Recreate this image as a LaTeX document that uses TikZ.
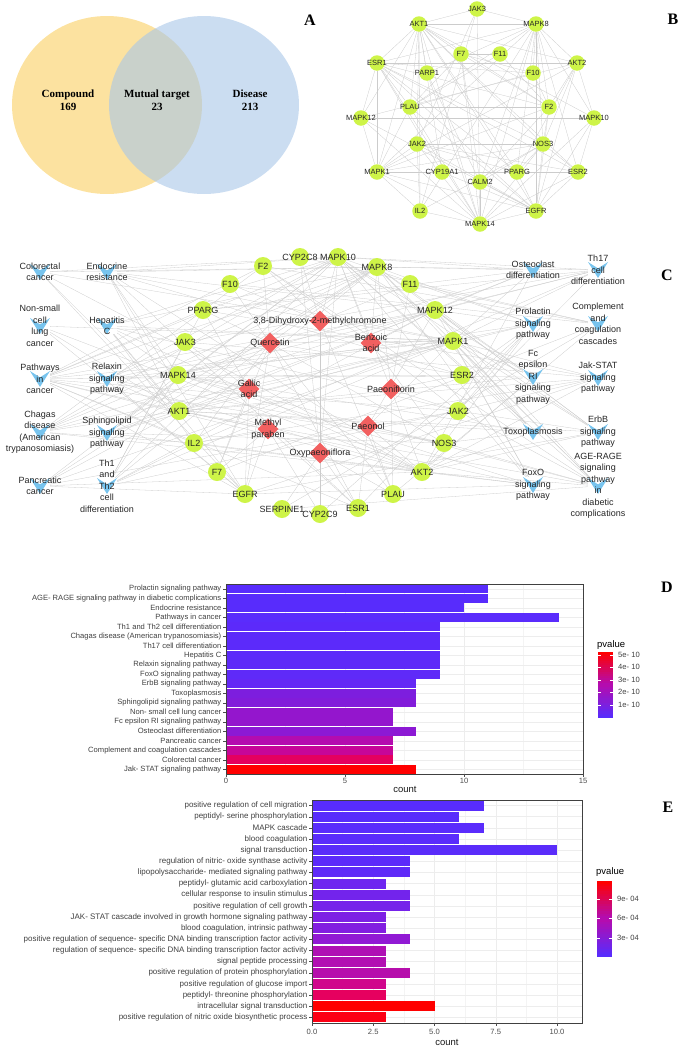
\documentclass[tikz,border=0pt]{standalone}
\usepackage{fontspec}
\setmainfont{Liberation Sans}
\newfontfamily\tnr{Liberation Serif}
\usetikzlibrary{calc, backgrounds, shapes.geometric}

\definecolor{vennY}{RGB}{252,226,160}
\definecolor{vennB}{RGB}{168,198,232}
\definecolor{nodeG}{RGB}{206,244,72}
\definecolor{cpdR}{RGB}{242,96,96}
\definecolor{pathB}{RGB}{120,196,238}
\definecolor{lgRed}{RGB}{255,0,0}
\definecolor{lgMid}{RGB}{180,12,175}
\definecolor{lgBlue}{RGB}{88,44,252}

\begin{document}
\begin{tikzpicture}[
    x=1pt, y=-1pt,
    edge/.style={draw=gray!40, line width=0.3pt},
    ntext/.style={font=\fontsize{9}{11.5}\selectfont, align=center, text=black!85, inner sep=0pt},
    btext/.style={font=\fontsize{7.5}{9}\selectfont, text=black!85, inner sep=0pt},
    tgt/.style={circle, fill=nodeG, minimum size=18pt, inner sep=0pt, label={[ntext]center:#1}},
    btgt/.style={circle, fill=nodeG, minimum size=15.5pt, inner sep=0pt, label={[btext]center:#1}},
    cpd/.style={diamond, fill=cpdR, minimum width=21pt, minimum height=21pt, inner sep=0pt, label={[ntext]center:#1}},
    pw/.style={rectangle, minimum width=20pt, minimum height=16pt, inner sep=0pt,
      path picture={\fill[pathB] (path picture bounding box.north west)
        -- ($(path picture bounding box.north)!0.4!(path picture bounding box.south)$)
        -- (path picture bounding box.north east) -- (path picture bounding box.south) -- cycle;},
      label={[ntext]center:#1}},
    venntext/.style={font=\tnr\bfseries\fontsize{11}{13}\selectfont, align=center},
    panel/.style={font=\tnr\bfseries\fontsize{16}{16}\selectfont},
    ylab/.style={anchor=east, font=\fontsize{#1}{9}\selectfont, text=black!75, inner sep=0pt},
    xlab/.style={font=\fontsize{7.6}{9}\selectfont, text=black!70, inner sep=0pt},
    axtitle/.style={font=\fontsize{9.5}{11}\selectfont, text=black!90, inner sep=0pt},
    legtitle/.style={anchor=west, font=\fontsize{9.5}{11}\selectfont, inner sep=0pt},
    leglab/.style={anchor=west, font=\fontsize{7.6}{9}\selectfont, text=black!75, inner sep=0pt},
    grid/.style={draw=gray!14, line width=0.5pt},
    gridminor/.style={draw=gray!9, line width=0.3pt},
    frame/.style={draw=black!75, line width=0.6pt},
    axtick/.style={draw=black!70, line width=0.4pt}
  ]
    \path[use as bounding box] (0,0) rectangle (685,1047);

    % ==========================================
    % A: venn
    \fill[vennY] (107,105) ellipse [x radius=95, y radius=89];
    \fill[vennB, fill opacity=0.6] (204,105) ellipse [x radius=95, y radius=89];
    \node[venntext] (cmp) at (68,100) {Compound\\169};
    \node[venntext] (mut) at (157,100) {Mutual target\\23};
    \node[venntext] (dis) at (250,100) {Disease\\213};
    \node[panel] (lA) at (310,20) {A};

    % ==========================================
    % B: PPI network
    \node[btgt=JAK3] (bJAK3) at (477,9) {};
    \node[btgt=AKT1] (bAKT1) at (419,24) {};
    \node[btgt=MAPK8] (bMAPK8) at (536,24) {};
    \node[btgt=F7] (bF7) at (461,54) {};
    \node[btgt=F11] (bF11) at (500,54) {};
    \node[btgt=ESR1] (bESR1) at (377,63) {};
    \node[btgt=PARP1] (bPARP1) at (427,73) {};
    \node[btgt=F10] (bF10) at (533,73) {};
    \node[btgt=AKT2] (bAKT2) at (577,63) {};
    \node[btgt=PLAU] (bPLAU) at (410,107) {};
    \node[btgt=F2] (bF2) at (549,107) {};
    \node[btgt=MAPK12] (bMAPK12) at (361,118) {};
    \node[btgt=MAPK10] (bMAPK10) at (594,118) {};
    \node[btgt=JAK2] (bJAK2) at (417,144) {};
    \node[btgt=NOS3] (bNOS3) at (543,144) {};
    \node[btgt=MAPK1] (bMAPK1) at (377,172) {};
    \node[btgt=CYP19A1] (bCYP19A1) at (442,172) {};
    \node[btgt=PPARG] (bPPARG) at (517,172) {};
    \node[btgt=ESR2] (bESR2) at (578,172) {};
    \node[btgt=CALM2] (bCALM2) at (480,182) {};
    \node[btgt=IL2] (bIL2) at (420,211) {};
    \node[btgt=EGFR] (bEGFR) at (536,211) {};
    \node[btgt=MAPK14] (bMAPK14) at (480,224) {};
    \node[panel] (lB) at (673,19) {B};

    % ==========================================
    % C: compound-target-pathway network
    \node[tgt=F2] (cF2) at (263,266) {};
    \node[tgt=CYP2C8] (cCYP2C8) at (300,257) {};
    \node[tgt=MAPK10] (cMAPK10) at (338,257) {};
    \node[tgt=MAPK8] (cMAPK8) at (377,267) {};
    \node[tgt=F11] (cF11) at (410,284) {};
    \node[tgt=MAPK12] (cMAPK12) at (435,310) {};
    \node[tgt=MAPK1] (cMAPK1) at (453,341) {};
    \node[tgt=ESR2] (cESR2) at (462,375) {};
    \node[tgt=JAK2] (cJAK2) at (458,411) {};
    \node[tgt=NOS3] (cNOS3) at (444,443) {};
    \node[tgt=AKT2] (cAKT2) at (422,472) {};
    \node[tgt=PLAU] (cPLAU) at (393,494) {};
    \node[tgt=ESR1] (cESR1) at (358,508) {};
    \node[tgt=CYP2C9] (cCYP2C9) at (320,514) {};
    \node[tgt=SERPINE1] (cSERPINE1) at (282,509) {};
    \node[tgt=EGFR] (cEGFR) at (245,494) {};
    \node[tgt=F7] (cF7) at (217,472) {};
    \node[tgt=IL2] (cIL2) at (194,443) {};
    \node[tgt=AKT1] (cAKT1) at (179,411) {};
    \node[tgt=MAPK14] (cMAPK14) at (178,375) {};
    \node[tgt=JAK3] (cJAK3) at (185,342) {};
    \node[tgt=PPARG] (cPPARG) at (203,310) {};
    \node[tgt=F10] (cF10) at (230,284) {};

    \node[cpd={3,8-Dihydroxy-2-methylchromone}] (dDihydroxy) at (320,321) {};
    \node[cpd=Quercetin] (dQuercetin) at (270,343) {};
    \node[cpd={Benzoic\\acid}] (dBenzoic) at (371,343) {};
    \node[cpd={Gallic\\acid}] (dGallic) at (249,389) {};
    \node[cpd=Paeoniflorin] (dPaeoniflorin) at (391,389) {};
    \node[cpd={Methyl\\paraben}] (dMethyl) at (268,429) {};
    \node[cpd=Paeonol] (dPaeonol) at (368,426) {};
    \node[cpd=Oxypaeoniflora] (dOxy) at (320,453) {};

    \node[pw={Colorectal\\cancer}] (pColorectal) at (40,272) {};
    \node[pw={Non-small\\cell\\lung\\cancer}] (pNSCLC) at (40,326) {};
    \node[pw={Pathways\\in\\cancer}] (pCancer) at (40,379) {};
    \node[pw={Chagas\\disease\\(American\\trypanosomiasis)}] (pChagas) at (40,432) {};
    \node[pw={Pancreatic\\cancer}] (pPancreatic) at (40,486) {};
    \node[pw={Endocrine\\resistance}] (pEndocrine) at (107,272) {};
    \node[pw={Hepatitis\\C}] (pHepatitis) at (107,326) {};
    \node[pw={Relaxin\\signaling\\pathway}] (pRelaxin) at (107,379) {};
    \node[pw={Sphingolipid\\signaling\\pathway}] (pSphingo) at (107,433) {};
    \node[pw={Th1\\and\\Th2\\cell\\differentiation}] (pTh1) at (107,486) {};
    \node[pw={Osteoclast\\differentiation}] (pOsteo) at (533,270) {};
    \node[pw={Prolactin\\signaling\\pathway}] (pProlactin) at (533,324) {};
    \node[pw={Fc\\epsilon\\RI\\signaling\\pathway}] (pFc) at (533,377) {};
    \node[pw=Toxoplasmosis] (pToxo) at (533,432) {};
    \node[pw={FoxO\\signaling\\pathway}] (pFoxO) at (533,485) {};
    \node[pw={Th17\\cell\\differentiation}] (pTh17) at (598,270) {};
    \node[pw={Complement\\and\\coagulation\\cascades}] (pComplement) at (598,324) {};
    \node[pw={Jak-STAT\\signaling\\pathway}] (pJakSTAT) at (598,378) {};
    \node[pw={ErbB\\signaling\\pathway}] (pErbB) at (598,432) {};
    \node[pw={AGE-RAGE\\signaling\\pathway\\in\\diabetic\\complications}] (pAGE) at (598,486) {};
    \node[panel] (lC) at (667,275) {C};

    \begin{scope}[on background layer]
      \foreach \s/\tl in {
        AKT1/{JAK3,MAPK8,ESR1,PARP1,F7,MAPK1,MAPK14,IL2,EGFR,NOS3,F2,ESR2,JAK2,MAPK12,CYP19A1,PPARG,AKT2,MAPK10,PLAU},
        MAPK8/{JAK3,AKT2,F10,F2,NOS3,EGFR,MAPK14,MAPK1,ESR1,PPARG,CALM2,PARP1,MAPK10,ESR2,PLAU,IL2},
        MAPK14/{JAK3,MAPK1,IL2,EGFR,ESR2,MAPK12,CALM2,NOS3,JAK2,MAPK10,ESR1,PLAU},
        EGFR/{ESR1,ESR2,MAPK1,F2,NOS3,PPARG,CALM2,PLAU,AKT2,JAK2,CYP19A1,MAPK12,MAPK10},
        MAPK1/{ESR1,MAPK12,ESR2,PLAU,JAK2,IL2,F2,PPARG,NOS3,AKT2,CYP19A1},
        ESR1/{MAPK12,F2,ESR2,PPARG,CYP19A1,NOS3,PLAU,AKT2,F10},
        F2/{F7,F10,F11,PLAU,CALM2,NOS3,AKT2},
        F7/{F11,F10,PLAU,CALM2,MAPK14},
        PLAU/{F11,F10},
        NOS3/{CALM2,AKT2,ESR2,PPARG,JAK2},
        JAK3/{JAK2,IL2},
        JAK2/{IL2,ESR2,PPARG},
        PPARG/{CYP19A1,ESR2,AKT2},
        PARP1/{MAPK14,CALM2},
        MAPK10/{MAPK12,AKT2,ESR2},
        MAPK12/{AKT2},
        CYP19A1/{ESR2},
        IL2/{NOS3}}
        {\foreach \t in \tl {\draw[edge] (b\s) -- (b\t);}}

      \foreach \s/\tl in {
        dQuercetin/{AKT1,MAPK1,MAPK8,EGFR,PPARG,ESR1,ESR2,NOS3,F2,F7,F10,PLAU,MAPK14,IL2},
        dDihydroxy/{F2,F10,F11,CYP2C9,CYP2C8,MAPK10,PLAU},
        dBenzoic/{MAPK8,MAPK10,MAPK12,MAPK1,JAK2,NOS3,F2},
        dGallic/{PPARG,MAPK14,AKT1,F7,EGFR,JAK3,MAPK1},
        dPaeoniflorin/{MAPK8,MAPK10,ESR2,JAK2,AKT2,PLAU,F11},
        dMethyl/{CYP2C9,ESR1,F7,IL2,AKT1,EGFR},
        dPaeonol/{MAPK1,NOS3,AKT2,PLAU,ESR1,MAPK12},
        dOxy/{CYP2C9,CYP2C8,MAPK10,SERPINE1,PLAU,ESR1},
        pColorectal/{MAPK10,MAPK8,MAPK1,AKT1,AKT2,EGFR},
        pEndocrine/{MAPK10,MAPK8,MAPK12,MAPK1,MAPK14,AKT1,AKT2,EGFR,ESR1,ESR2},
        pNSCLC/{MAPK1,AKT1,AKT2,EGFR},
        pHepatitis/{MAPK8,MAPK10,MAPK1,MAPK14,AKT1,AKT2,EGFR,JAK2,IL2},
        pCancer/{MAPK8,MAPK10,MAPK1,AKT1,AKT2,EGFR,PPARG,ESR1,ESR2,IL2,JAK2,F2,NOS3,MAPK12},
        pRelaxin/{MAPK1,MAPK14,MAPK8,MAPK10,AKT1,AKT2,EGFR,NOS3,MAPK12},
        pChagas/{MAPK1,MAPK14,MAPK8,MAPK10,MAPK12,AKT1,AKT2,IL2,F2},
        pSphingo/{MAPK1,MAPK14,MAPK8,MAPK10,MAPK12,AKT1,AKT2,NOS3},
        pPancreatic/{MAPK1,MAPK8,MAPK10,AKT1,AKT2,EGFR,JAK2},
        pTh1/{MAPK1,MAPK14,MAPK8,MAPK10,MAPK12,JAK2,JAK3,IL2,PPARG},
        pOsteo/{MAPK1,MAPK14,MAPK8,MAPK10,MAPK12,AKT1,AKT2,PPARG},
        pTh17/{MAPK1,MAPK14,MAPK8,MAPK10,MAPK12,JAK2,JAK3,IL2,PPARG},
        pProlactin/{MAPK1,MAPK14,MAPK8,MAPK10,MAPK12,AKT1,AKT2,JAK2,ESR1,ESR2,CYP2C9},
        pComplement/{F2,F7,F10,F11,PLAU,SERPINE1,CYP2C8},
        pFc/{MAPK1,MAPK14,MAPK8,MAPK10,MAPK12,AKT1,AKT2},
        pJakSTAT/{AKT1,AKT2,JAK2,JAK3,IL2,EGFR,PPARG,MAPK1},
        pToxo/{MAPK1,MAPK14,MAPK8,MAPK10,MAPK12,AKT1,AKT2,NOS3},
        pErbB/{MAPK1,MAPK8,MAPK10,AKT1,AKT2,EGFR,JAK2,MAPK12},
        pFoxO/{MAPK1,MAPK14,MAPK8,MAPK10,MAPK12,AKT1,AKT2,EGFR,IL2},
        pAGE/{MAPK1,MAPK14,MAPK8,MAPK10,MAPK12,AKT1,AKT2,JAK2,F2,NOS3,SERPINE1}}
        {\foreach \t in \tl {\draw[edge] (\s) -- (c\t);}}
    \end{scope}

    % ==========================================
    % D: KEGG bar chart
    \draw[gridminor] foreach \v in {2.5,7.5,12.5} {({226+\v*23.8},584) -- ({226+\v*23.8},774)};
    \draw[grid] foreach \v in {0,5,10,15} {({226+\v*23.8},584) -- ({226+\v*23.8},774)};
    \foreach \lab/\val/\rc/\gc/\bc [count=\i] in {
      Prolactin signaling pathway/11/88/44/252,
      AGE- RAGE signaling pathway in diabetic complications/11/88/44/252,
      Endocrine resistance/10/88/44/252,
      Pathways in cancer/14/90/44/252,
      Th1 and Th2 cell differentiation/9/92/42/250,
      Chagas disease (American trypanosomiasis)/9/92/42/250,
      Th17 cell differentiation/9/92/42/250,
      Hepatitis C/9/92/42/250,
      Relaxin signaling pathway/9/95/42/248,
      FoxO signaling pathway/9/95/42/248,
      ErbB signaling pathway/8/100/40/245,
      Toxoplasmosis/8/125/30/222,
      Sphingolipid signaling pathway/8/130/28/218,
      Non- small cell lung cancer/7/148/22/205,
      Fc epsilon RI signaling pathway/7/148/22/205,
      Osteoclast differentiation/8/140/25/212,
      Pancreatic cancer/7/180/12/175,
      Complement and coagulation cascades/7/198/6/152,
      Colorectal cancer/7/228/0/95,
      Jak- STAT signaling pathway/8/255/0/0}{
      \pgfmathsetmacro\yc{584+(\i-0.5)*9.5}
      \definecolor{barc}{RGB}{\rc,\gc,\bc}
      \draw[grid] (226,\yc) -- (583,\yc);
      \fill[barc] (226,\yc-4.3) rectangle ({226+\val*23.8},\yc+4.3);
      \draw[axtick] (223,\yc) -- (226,\yc);
      \node[ylab=7.6] (dl\i) at (221.5,\yc) {\lab};
    }
    \draw[frame] (226,584) rectangle (583,774);
    \foreach \v [count=\j] in {0,5,10,15} {
      \draw[axtick] ({226+\v*23.8},774) -- ({226+\v*23.8},777);
      \node[xlab] (dx\j) at ({226+\v*23.8},781) {\v};
    }
    \node[axtitle] (dcount) at (405,789) {count};
    \node[legtitle] (dleg) at (597,645) {pvalue};
    \foreach \k in {0,...,14} {
      \pgfmathtruncatemacro\pc{100-\k*100/14}
      \fill[lgRed!\pc!lgMid] (598,{652+\k*2.2}) rectangle (613,{652+\k*2.2+2.4});
    }
    \foreach \k in {0,...,14} {
      \pgfmathtruncatemacro\pc{100-\k*100/14}
      \fill[lgMid!\pc!lgBlue] (598,{685+\k*2.2}) rectangle (613,{685+\k*2.2+2.4});
    }
    \foreach \lab/\yl [count=\j] in {5e- 10/655, 4e- 10/667, 3e- 10/680, 2e- 10/692, 1e- 10/705} {
      \draw[white, line width=0.5pt] (598,\yl) -- (601,\yl) (610,\yl) -- (613,\yl);
      \node[leglab] (dk\j) at (618,\yl) {\lab};
    }
    \node[panel] (lD) at (667,587) {D};

    % ==========================================
    % E: GO bar chart
    \draw[gridminor] foreach \v in {1.25,3.75,6.25,8.75} {({312+\v*24.5},800) -- ({312+\v*24.5},1023)};
    \draw[grid] foreach \v in {0,2.5,5,7.5,10} {({312+\v*24.5},800) -- ({312+\v*24.5},1023)};
    \foreach \lab/\val/\rc/\gc/\bc [count=\i] in {
      positive regulation of cell migration/7/88/44/252,
      peptidyl- serine phosphorylation/6/88/44/252,
      MAPK cascade/7/90/44/252,
      blood coagulation/6/90/44/252,
      signal transduction/10/90/44/250,
      regulation of nitric- oxide synthase activity/4/92/42/250,
      lipopolysaccharide- mediated signaling pathway/4/95/42/248,
      peptidyl- glutamic acid carboxylation/3/110/38/240,
      cellular response to insulin stimulus/4/115/36/236,
      positive regulation of cell growth/4/118/35/234,
      JAK- STAT cascade involved in growth hormone signaling pathway/3/125/32/228,
      {blood coagulation, intrinsic pathway}/3/130/30/224,
      positive regulation of sequence- specific DNA binding transcription factor activity/4/145/26/212,
      regulation of sequence- specific DNA binding transcription factor activity/3/175/16/180,
      signal peptide processing/3/178/15/178,
      positive regulation of protein phosphorylation/4/182/14/172,
      positive regulation of glucose import/3/208/6/140,
      peptidyl- threonine phosphorylation/3/230/0/95,
      intracellular signal transduction/5/255/0/0,
      positive regulation of nitric oxide biosynthetic process/3/252/0/20}{
      \pgfmathsetmacro\yc{800+(\i-0.5)*11.15}
      \definecolor{barc}{RGB}{\rc,\gc,\bc}
      \draw[grid] (312,\yc) -- (582,\yc);
      \fill[barc] (312,\yc-5) rectangle ({312+\val*24.5},\yc+5);
      \draw[axtick] (309,\yc) -- (312,\yc);
      \node[ylab=8] (el\i) at (307.5,\yc) {\lab};
    }
    \draw[frame] (312,800) rectangle (582,1023);
    \foreach \v/\l [count=\j] in {0/0.0, 2.5/2.5, 5/5.0, 7.5/7.5, 10/10.0} {
      \draw[axtick] ({312+\v*24.5},1023) -- ({312+\v*24.5},1026);
      \node[xlab] (ex\j) at ({312+\v*24.5},1032) {\l};
    }
    \node[axtitle] (ecount) at (447,1042) {count};
    \node[legtitle] (eleg) at (596,872) {pvalue};
    \foreach \k in {0,...,14} {
      \pgfmathtruncatemacro\pc{100-\k*100/14}
      \fill[lgRed!\pc!lgMid] (597,{881+\k*2.53}) rectangle (612,{881+\k*2.53+2.7});
    }
    \foreach \k in {0,...,14} {
      \pgfmathtruncatemacro\pc{100-\k*100/14}
      \fill[lgMid!\pc!lgBlue] (597,{919+\k*2.53}) rectangle (612,{919+\k*2.53+2.7});
    }
    \foreach \lab/\yl [count=\j] in {9e- 04/899, 6e- 04/918, 3e- 04/938} {
      \draw[white, line width=0.5pt] (597,\yl) -- (600,\yl) (609,\yl) -- (612,\yl);
      \node[leglab] (ek\j) at (617,\yl) {\lab};
    }
    \node[panel] (lE) at (668,807) {E};

  \end{tikzpicture}
\end{document}
